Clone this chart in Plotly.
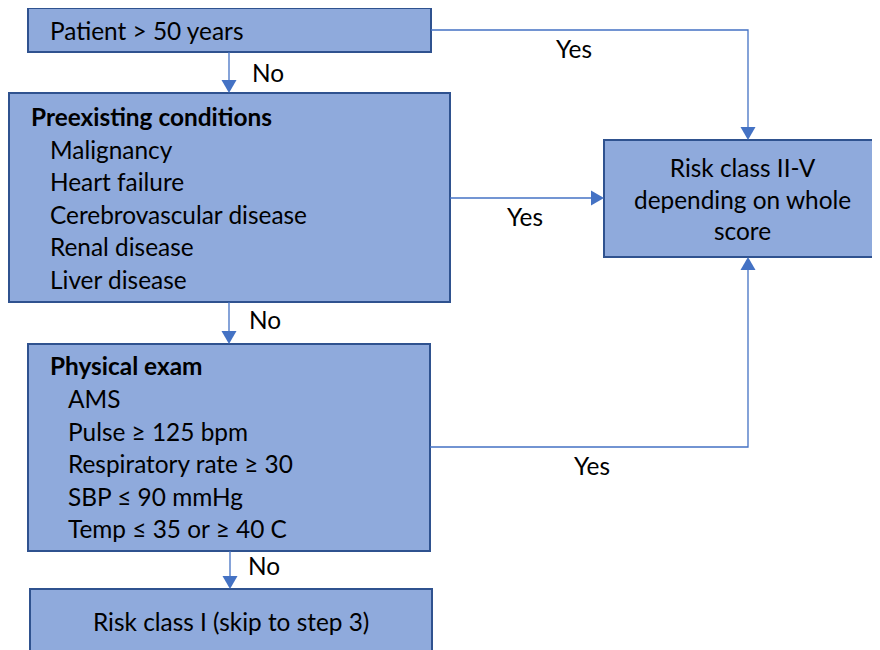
import plotly.graph_objects as go

# ---- content ----
box_titles = ["Patient > 50 years", "Preexisting conditions", "Physical exam",
              "Risk class I (skip to step 3)", "Risk class II-V<br>depending on whole<br>score"]
preexisting_items = ["Malignancy", "Heart failure", "Cerebrovascular disease",
                     "Renal disease", "Liver disease"]
exam_items = ["AMS", "Pulse \u2265 125 bpm", "Respiratory rate \u2265 30",
              "SBP \u2264 90 mmHg", "Temp \u2264 35 or \u2265 40 C"]
branch_labels = ["No", "No", "No", "Yes", "Yes", "Yes"]

# ---- layout geometry (pixels, y downward) ----
W, H = 880, 650
OFF = 8  # page body margin compensation
DY = -1.5  # text baseline nudge
boxes = {  # x0, y0, x1, y1
    "age": (28, 8, 431, 52),
    "pre": (9, 93, 450, 302),
    "exam": (28, 344, 430, 551),
    "r1": (30, 589, 432, 670),
    "r2": (604, 140, 879, 257),
}
FILL = "#8FAADC"
EDGE = "#2F528F"
ARROW = "#4472C4"
FONT = "Lato"
FS = 24.4
LH = 32.6

fig = go.Figure()
fig.add_trace(go.Scatter(x=[0, W], y=[0, H], mode="markers", marker=dict(opacity=0), hoverinfo="skip", showlegend=False))

for k, (x0, y0, x1, y1) in boxes.items():
    fig.add_shape(type="rect", x0=x0, y0=y0, x1=x1, y1=y1, xref="x", yref="y",
                  fillcolor=FILL, line=dict(color=EDGE, width=2), layer="below")

def line(pts):
    path = "M " + " L ".join(f"{x},{y}" for x, y in pts)
    fig.add_shape(type="path", path=path, line=dict(color=ARROW, width=1.3), xref="x", yref="y")

def head(x, y, d):
    w, h = 7.5, 13
    if d == "down":
        p = f"M {x-w},{y-h} L {x+w},{y-h} L {x},{y} Z"
    elif d == "up":
        p = f"M {x-w},{y+h} L {x+w},{y+h} L {x},{y} Z"
    else:  # right
        p = f"M {x-h},{y-w} L {x-h},{y+w} L {x},{y} Z"
    fig.add_shape(type="path", path=p, fillcolor=ARROW, line=dict(color=ARROW, width=0), xref="x", yref="y")

# No arrows (down)
for (xa, ya, yb) in [(229, 52, 93), (229, 302, 344), (230, 551, 589)]:
    line([(xa, ya), (xa, yb - 10)])
    head(xa, yb, "down")

# Yes connectors
line([(431, 30), (748, 30), (748, 130)]); head(748, 140, "down")
line([(450, 198), (594, 198)]); head(604, 198, "right")
line([(430, 447), (748, 447), (748, 267)]); head(748, 257, "up")

def txt(x, y, s, bold=False, anchor="left"):
    fig.add_annotation(x=x, y=y + DY, xref="x", yref="y", text=f"<b>{s}</b>" if bold else s,
                       showarrow=False, xanchor=anchor, yanchor="middle", align="center",
                       font=dict(family=FONT, size=FS, color="black"))

txt(48, 32, box_titles[0])
txt(29, 118, box_titles[1], bold=True)
for i, s in enumerate(preexisting_items):
    txt(48, 150.5 + i * LH, s)
txt(48, 367, box_titles[2], bold=True)
for i, s in enumerate(exam_items):
    txt(66, 400 + i * LH, s)
txt(231, 623, box_titles[3], anchor="center")
fig.add_annotation(x=742, y=199, xref="x", yref="y", text=box_titles[4], showarrow=False,
                   xanchor="center", yanchor="middle", align="center",
                   font=dict(family=FONT, size=FS, color="black"))

label_pos = [(250, 74), (247, 321), (246, 567), (554, 50), (505, 218), (572, 467)]
for (x, y), s in zip(label_pos, branch_labels):
    txt(x, y, s)

fig.update_layout(width=W, height=H, margin=dict(l=0, r=0, t=0, b=0),
                  paper_bgcolor="white", plot_bgcolor="white", showlegend=False,
                  xaxis=dict(range=[OFF, W + OFF], visible=False, fixedrange=True),
                  yaxis=dict(range=[H + OFF, OFF], visible=False, fixedrange=True))
fig.write_html("out.html")
